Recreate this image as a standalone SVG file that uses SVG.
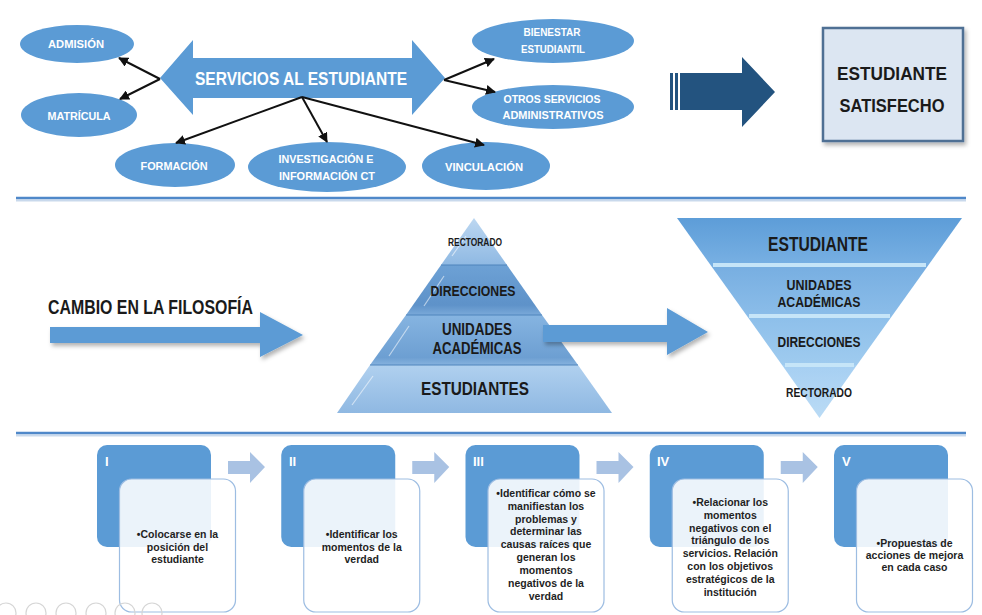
<svg xmlns="http://www.w3.org/2000/svg" width="982" height="615" viewBox="0 0 982 615">
  <defs>
    <style>
      .lbl { font-family: "Liberation Sans", Arial, sans-serif; font-weight: bold; text-anchor: middle; }
      .wht { fill: #ffffff; }
      .blk { fill: #1a1a1a; }
      .oval { fill: #5b9bd5; }
      .conn { stroke: #111111; stroke-width: 2; fill: none; marker-end: url(#ah); }
      .sep { stroke: #4f88c9; stroke-width: 2.5; }
      .sepShade { stroke: #c9d9ec; stroke-width: 2; }
      .stepHead { fill: #5b9bd5; }
      .stepBody { fill: #ffffff; fill-opacity: 0.88; stroke: #9dbde2; stroke-width: 1.2; }
      .stepArrow { fill: #a9c2e3; }
      .para { font-family: "Liberation Sans", Arial, sans-serif; font-weight: bold; font-size: 10.5px; fill: #1f1f1f; text-anchor: middle; }
      .num { font-family: "Liberation Sans", Arial, sans-serif; font-weight: bold; font-size: 13px; fill: #ffffff; }
      .gloss { stroke: #ffffff; stroke-opacity: 0.55; stroke-width: 1.2; fill: none; }
      .band { fill: #c6e5f8; }
      .icon { fill: none; stroke: #d6d6d6; stroke-width: 1.2; }
    </style>
    <marker id="ah" viewBox="0 0 10 10" refX="9" refY="5" markerWidth="5" markerHeight="5" orient="auto">
      <path d="M0,0 L10,5 L0,10 Z" fill="#111111"/>
    </marker>
    <filter id="sh" x="-10%" y="-10%" width="130%" height="140%">
      <feDropShadow dx="2" dy="3" stdDeviation="2" flood-color="#000000" flood-opacity="0.3"/>
    </filter>
    <linearGradient id="pTop" x1="0" y1="0" x2="0" y2="1">
      <stop offset="0" stop-color="#bcd7f1"/><stop offset="1" stop-color="#8fb9e3"/>
    </linearGradient>
    <linearGradient id="pDir" x1="0" y1="0" x2="0" y2="1">
      <stop offset="0" stop-color="#6da1d5"/><stop offset="0.8" stop-color="#5e92c9"/><stop offset="1" stop-color="#7aa9d9"/>
    </linearGradient>
    <linearGradient id="pUni" x1="0" y1="0" x2="0" y2="1">
      <stop offset="0" stop-color="#86b4e1"/><stop offset="0.85" stop-color="#6d9fd2"/><stop offset="1" stop-color="#86b2de"/>
    </linearGradient>
    <linearGradient id="pEst" x1="0" y1="0" x2="0" y2="1">
      <stop offset="0" stop-color="#b0d0ef"/><stop offset="1" stop-color="#8fb8e2"/>
    </linearGradient>
    <linearGradient id="iEst" x1="0" y1="0" x2="0" y2="1">
      <stop offset="0" stop-color="#5d9dd8"/><stop offset="1" stop-color="#78b0e3"/>
    </linearGradient>
    <linearGradient id="iUni" x1="0" y1="0" x2="0" y2="1">
      <stop offset="0" stop-color="#77aee1"/><stop offset="1" stop-color="#8bbde9"/>
    </linearGradient>
    <linearGradient id="iDir" x1="0" y1="0" x2="0" y2="1">
      <stop offset="0" stop-color="#8dbfea"/><stop offset="1" stop-color="#9fcbef"/>
    </linearGradient>
    <linearGradient id="iRec" x1="0" y1="0" x2="0" y2="1">
      <stop offset="0" stop-color="#a6cff2"/><stop offset="1" stop-color="#badbf5"/>
    </linearGradient>
  </defs>

  <rect x="0" y="0" width="982" height="615" fill="#ffffff"/>

  <!-- ===== Section 1: student services ===== -->
  <g id="servicios">
    <path class="oval" d="M160,78 L193,40 L193,58 L412,58 L412,40 L445,78 L412,115 L412,98 L193,98 L193,115 Z"/>
    <text class="lbl wht" x="301" y="85" font-size="18.5" textLength="212" lengthAdjust="spacingAndGlyphs">SERVICIOS AL ESTUDIANTE</text>
  </g>
  <g id="admision">
    <ellipse class="oval" cx="77" cy="44" rx="57" ry="19"/>
    <text class="lbl wht" x="76" y="48" font-size="11.5" textLength="56" lengthAdjust="spacingAndGlyphs">ADMISIÓN</text>
  </g>
  <g id="matricula">
    <ellipse class="oval" cx="79" cy="115" rx="58" ry="22"/>
    <text class="lbl wht" x="79" y="120" font-size="11.5" textLength="63" lengthAdjust="spacingAndGlyphs">MATRÍCULA</text>
  </g>
  <g id="formacion">
    <ellipse class="oval" cx="175" cy="165" rx="60" ry="22"/>
    <text class="lbl wht" x="174" y="170" font-size="11.5" textLength="67" lengthAdjust="spacingAndGlyphs">FORMACIÓN</text>
  </g>
  <g id="investigacion">
    <ellipse class="oval" cx="327" cy="167" rx="79" ry="25"/>
    <text class="lbl wht" x="326" y="163" font-size="11.5" textLength="95" lengthAdjust="spacingAndGlyphs">INVESTIGACIÓN E</text>
    <text class="lbl wht" x="327" y="180" font-size="11.5" textLength="96" lengthAdjust="spacingAndGlyphs">INFORMACIÓN CT</text>
  </g>
  <g id="vinculacion">
    <ellipse class="oval" cx="486" cy="166" rx="64" ry="24"/>
    <text class="lbl wht" x="484" y="171" font-size="11.5" textLength="78" lengthAdjust="spacingAndGlyphs">VINCULACIÓN</text>
  </g>
  <g id="bienestar">
    <ellipse class="oval" cx="553" cy="41" rx="81" ry="22"/>
    <text class="lbl wht" x="552" y="36" font-size="11.5" textLength="57" lengthAdjust="spacingAndGlyphs">BIENESTAR</text>
    <text class="lbl wht" x="553" y="53" font-size="11.5" textLength="64" lengthAdjust="spacingAndGlyphs">ESTUDIANTIL</text>
  </g>
  <g id="otros">
    <ellipse class="oval" cx="553" cy="107" rx="81" ry="22"/>
    <text class="lbl wht" x="552" y="103" font-size="11.5" textLength="97" lengthAdjust="spacingAndGlyphs">OTROS SERVICIOS</text>
    <text class="lbl wht" x="553" y="119" font-size="11.5" textLength="101" lengthAdjust="spacingAndGlyphs">ADMINISTRATIVOS</text>
  </g>

  <g id="connectors">
    <line class="conn" x1="160" y1="79" x2="119" y2="58"/>
    <line class="conn" x1="160" y1="79" x2="120" y2="99"/>
    <line class="conn" x1="302" y1="97" x2="176" y2="143"/>
    <line class="conn" x1="302" y1="97" x2="327" y2="142"/>
    <line class="conn" x1="302" y1="97" x2="484" y2="145"/>
    <line class="conn" x1="444" y1="80" x2="494" y2="59"/>
    <line class="conn" x1="444" y1="80" x2="495" y2="92"/>
  </g>

  <g id="flecha-resultado">
    <rect x="670" y="73" width="3" height="37" fill="#23537f"/>
    <rect x="675" y="73" width="3" height="37" fill="#23537f"/>
    <path d="M680,73 L742,73 L742,57 L775,92 L742,127 L742,110 L680,110 Z" fill="#23537f"/>
  </g>

  <g id="satisfecho">
    <rect x="823" y="28" width="140" height="113" fill="#dce6f2" stroke="#4f6f94" stroke-width="2.5" filter="url(#sh)"/>
    <text class="lbl blk" x="892" y="80" font-size="18.5" textLength="110" lengthAdjust="spacingAndGlyphs">ESTUDIANTE</text>
    <text class="lbl blk" x="892" y="112" font-size="18.5" textLength="105" lengthAdjust="spacingAndGlyphs">SATISFECHO</text>
  </g>

  <!-- section dividers -->
  <line class="sepShade" x1="16" y1="200.5" x2="966" y2="200.5"/>
  <line class="sep" x1="16" y1="198" x2="966" y2="198"/>
  <line class="sepShade" x1="16" y1="435.5" x2="966" y2="435.5"/>
  <line class="sep" x1="16" y1="433" x2="966" y2="433"/>

  <!-- ===== Section 2: change of philosophy ===== -->
  <g id="cambio">
    <text class="lbl blk" x="48" y="314" font-size="19.5" text-anchor="start" style="text-anchor:start" textLength="205" lengthAdjust="spacingAndGlyphs">CAMBIO EN LA FILOSOFÍA</text>
    <path d="M50,327 L260,327 L260,312 L303,335 L260,357 L260,343 L50,343 Z" fill="#5b9bd5" filter="url(#sh)"/>
  </g>

  <g id="piramide">
    <polygon points="474,218 507,265 441,265" fill="url(#pTop)"/>
    <polygon points="441,265 507,265 542,315 406,315" fill="url(#pDir)"/>
    <polygon points="406,315 542,315 578,365 370,365" fill="url(#pUni)"/>
    <polygon points="370,365 578,365 612,413 337,413" fill="url(#pEst)"/>
    <!-- glossy edge highlights -->
    <line class="gloss" x1="466" y1="236" x2="452" y2="256"/>
    <line class="gloss" x1="444" y1="276" x2="424" y2="306"/>
    <line class="gloss" x1="409" y1="326" x2="389" y2="356"/>
    <line class="gloss" x1="373" y1="376" x2="352" y2="405"/>
    <line x1="441" y1="265" x2="507" y2="265" stroke="#4f84bc" stroke-width="1"/>
    <line x1="406" y1="315" x2="542" y2="315" stroke="#4f84bc" stroke-width="1"/>
    <line x1="370" y1="365" x2="578" y2="365" stroke="#4f84bc" stroke-width="1"/>
    <text class="lbl blk" x="475" y="246" font-size="10.5" textLength="54" lengthAdjust="spacingAndGlyphs">RECTORADO</text>
    <text class="lbl blk" x="473" y="296" font-size="14.5" textLength="85" lengthAdjust="spacingAndGlyphs">DIRECCIONES</text>
    <text class="lbl blk" x="477" y="335" font-size="16.5" textLength="70" lengthAdjust="spacingAndGlyphs">UNIDADES</text>
    <text class="lbl blk" x="477" y="354" font-size="16.5" textLength="89" lengthAdjust="spacingAndGlyphs">ACADÉMICAS</text>
    <text class="lbl blk" x="475" y="395" font-size="18.5" textLength="108" lengthAdjust="spacingAndGlyphs">ESTUDIANTES</text>
  </g>

  <g id="flecha-inversion">
    <path d="M543,325 L667,325 L667,308 L708,332 L667,355 L667,342 L543,342 Z" fill="#5b9bd5" filter="url(#sh)"/>
  </g>

  <g id="piramide-invertida">
    <polygon points="677,218 962,218 928.5,265 710.5,265" fill="url(#iEst)"/>
    <polygon points="710.5,265 928.5,265 892,316 747,316" fill="url(#iUni)"/>
    <polygon points="747,316 892,316 857,365 782,365" fill="url(#iDir)"/>
    <polygon points="782,365 857,365 819.5,418" fill="url(#iRec)"/>
    <rect class="band" x="713" y="263" width="213" height="4"/>
    <rect class="band" x="749" y="314" width="141" height="4"/>
    <rect class="band" x="785" y="363" width="69" height="4"/>
    <text class="lbl blk" x="818" y="251" font-size="19.5" textLength="100" lengthAdjust="spacingAndGlyphs">ESTUDIANTE</text>
    <text class="lbl blk" x="819" y="290" font-size="14.5" textLength="65" lengthAdjust="spacingAndGlyphs">UNIDADES</text>
    <text class="lbl blk" x="819" y="307" font-size="14.5" textLength="83" lengthAdjust="spacingAndGlyphs">ACADÉMICAS</text>
    <text class="lbl blk" x="819" y="347" font-size="14.5" textLength="83" lengthAdjust="spacingAndGlyphs">DIRECCIONES</text>
    <text class="lbl blk" x="819" y="397" font-size="12" textLength="66" lengthAdjust="spacingAndGlyphs">RECTORADO</text>
  </g>

  <!-- ===== Section 3: process steps ===== -->
  <g id="paso-1">
    <rect class="stepHead" x="97" y="445" width="114" height="102" rx="10"/>
    <text class="num" x="105" y="466">I</text>
    <rect class="stepBody" x="119.5" y="479" width="116" height="133" rx="12"/>
    <text class="para" x="177.5" y="538">•Colocarse en la</text>
    <text class="para" x="177.5" y="551">posición del</text>
    <text class="para" x="177.5" y="563">estudiante</text>
  </g>
  <g id="paso-2">
    <rect class="stepHead" x="281.25" y="445" width="114" height="102" rx="10"/>
    <text class="num" x="289" y="466">II</text>
    <rect class="stepBody" x="303.75" y="479" width="116" height="133" rx="12"/>
    <text class="para" x="361.75" y="538">•Identificar los</text>
    <text class="para" x="361.75" y="551">momentos de la</text>
    <text class="para" x="361.75" y="563">verdad</text>
  </g>
  <g id="paso-3">
    <rect class="stepHead" x="465.5" y="445" width="114" height="102" rx="10"/>
    <text class="num" x="473" y="466">III</text>
    <rect class="stepBody" x="488" y="479" width="116" height="133" rx="12"/>
    <text class="para" x="546" y="497">•Identificar cómo se</text>
    <text class="para" x="546" y="510">manifiestan los</text>
    <text class="para" x="546" y="523">problemas y</text>
    <text class="para" x="546" y="535">determinar las</text>
    <text class="para" x="546" y="548">causas raíces que</text>
    <text class="para" x="546" y="561">generan los</text>
    <text class="para" x="546" y="574">momentos</text>
    <text class="para" x="546" y="587">negativos de la</text>
    <text class="para" x="546" y="600">verdad</text>
  </g>
  <g id="paso-4">
    <rect class="stepHead" x="649.75" y="445" width="114" height="102" rx="10"/>
    <text class="num" x="657" y="466">IV</text>
    <rect class="stepBody" x="672.25" y="479" width="116" height="133" rx="12"/>
    <text class="para" x="730.25" y="506">•Relacionar los</text>
    <text class="para" x="730.25" y="519">momentos</text>
    <text class="para" x="730.25" y="532">negativos con el</text>
    <text class="para" x="730.25" y="544">triángulo de los</text>
    <text class="para" x="730.25" y="557">servicios. Relación</text>
    <text class="para" x="730.25" y="570">con los objetivos</text>
    <text class="para" x="730.25" y="583">estratégicos de la</text>
    <text class="para" x="730.25" y="596">institución</text>
  </g>
  <g id="paso-5">
    <rect class="stepHead" x="834" y="445" width="114" height="102" rx="10"/>
    <text class="num" x="842" y="466">V</text>
    <rect class="stepBody" x="856.5" y="479" width="116" height="133" rx="12"/>
    <text class="para" x="914.5" y="547">•Propuestas de</text>
    <text class="para" x="914.5" y="559">acciones de mejora</text>
    <text class="para" x="914.5" y="571">en cada caso</text>
  </g>

  <g id="flechas-pasos">
    <path class="stepArrow" d="M228,461 L250,461 L250,452 L265,467 L250,483 L250,474 L228,474 Z"/>
    <path class="stepArrow" d="M412.25,461 L434.25,461 L434.25,452 L449.25,467 L434.25,483 L434.25,474 L412.25,474 Z"/>
    <path class="stepArrow" d="M596.5,461 L618.5,461 L618.5,452 L633.5,467 L618.5,483 L618.5,474 L596.5,474 Z"/>
    <path class="stepArrow" d="M780.75,461 L802.75,461 L802.75,452 L817.75,467 L802.75,483 L802.75,474 L780.75,474 Z"/>
  </g>

  <!-- faint playback controls along the lower-left corner -->
  <g id="controles">
    <circle class="icon" cx="6" cy="613" r="10"/>
    <circle class="icon" cx="36" cy="613" r="10"/>
    <circle class="icon" cx="66" cy="613" r="10"/>
    <circle class="icon" cx="96" cy="613" r="10"/>
    <circle class="icon" cx="125" cy="613" r="10"/>
    <circle class="icon" cx="152" cy="613" r="10"/>
  </g>
</svg>
